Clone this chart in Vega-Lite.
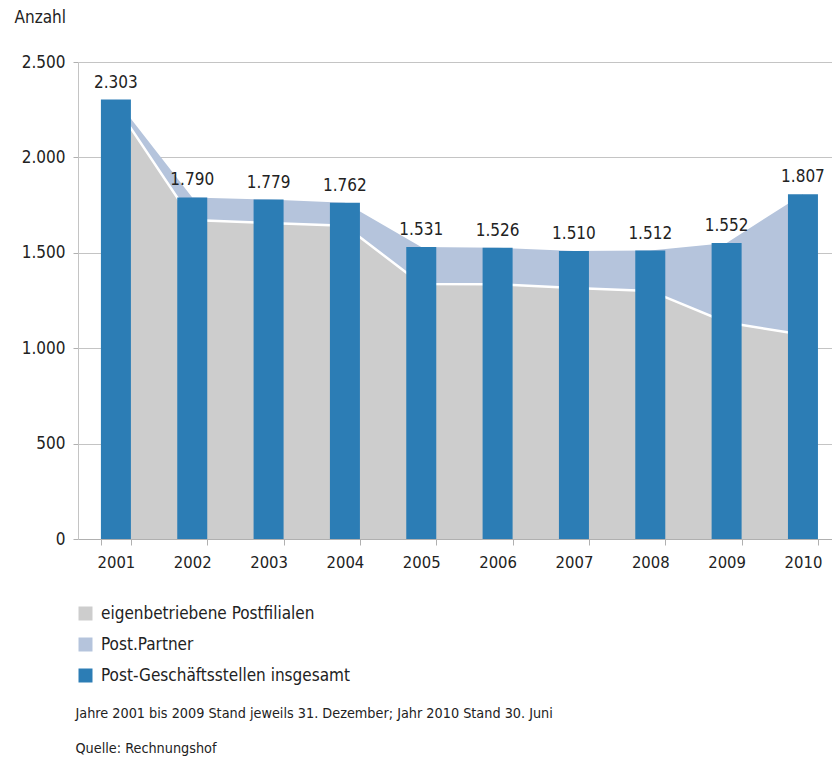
{
  "$schema": "https://vega.github.io/schema/vega-lite/v6.json",
  "width": 754,
  "height": 477,
  "autosize": {"type": "none"},
  "padding": {"left": 78, "top": 62, "right": 0, "bottom": 223},
  "background": "white",
  "config": {
    "locale": {"number": {"decimal": ",", "thousands": ".", "grouping": [3], "currency": ["", " €"]}},
    "font": "DejaVu Sans Condensed",
    "view": {"stroke": null},
    "axis": {"labelColor": "#222222", "titleColor": "#222222", "labelFont": "DejaVu Sans Condensed", "titleFont": "DejaVu Sans Condensed"},
    "legend": {"labelFont": "DejaVu Sans Condensed"}
  },
  "data": {
    "values": [
      {"year": "2001", "total": 2303, "eigen": 2270},
      {"year": "2002", "total": 1790, "eigen": 1672},
      {"year": "2003", "total": 1779, "eigen": 1656},
      {"year": "2004", "total": 1762, "eigen": 1642},
      {"year": "2005", "total": 1531, "eigen": 1336},
      {"year": "2006", "total": 1526, "eigen": 1335},
      {"year": "2007", "total": 1510, "eigen": 1315},
      {"year": "2008", "total": 1512, "eigen": 1300},
      {"year": "2009", "total": 1552, "eigen": 1135},
      {"year": "2010", "total": 1807, "eigen": 1070}
    ]
  },
  "encoding": {
    "x": {
      "field": "year",
      "type": "ordinal",
      "scale": {"paddingInner": 0.607, "paddingOuter": 0.242, "align": 0.62},
      "axis": {
        "title": ["Jahre 2001 bis 2009 Stand jeweils 31. Dezember; Jahr 2010 Stand 30. Juni", "Quelle: Rechnungshof"],
        "titleX": -3,
        "titleY": 178,
        "titleAlign": "left",
        "titleAnchor": "start",
        "titleBaseline": "alphabetic",
        "titleFontSize": 14.3,
        "titleFontWeight": "normal",
        "titleLineHeight": 35,
        "labelAngle": 0,
        "labelFontSize": 16.5,
        "tickBand": "extent",
        "tickSize": 6,
        "labelPadding": 9,
        "domainColor": "#b0b0b0",
        "tickColor": "#b0b0b0",
        "grid": false
      }
    }
  },
  "layer": [
    {
      "mark": {"type": "area"},
      "encoding": {
        "y": {
          "field": "total",
          "type": "quantitative",
          "title": "Anzahl",
          "scale": {"domain": [0, 2500], "nice": false},
          "axis": {
            "values": [0, 500, 1000, 1500, 2000, 2500],
            "format": ",d",
            "titleAngle": 0,
            "titleAlign": "left",
            "titleX": -64,
            "titleY": -45,
            "titleBaseline": "middle",
            "titleFontSize": 17,
            "titleFontWeight": "normal",
            "labelFontSize": 17,
            "labelPadding": 8,
            "tickSize": 5,
            "grid": true,
            "gridColor": "#c4c4c4",
            "domainColor": "#c4c4c4",
            "tickColor": "#b0b0b0"
          }
        },
        "color": {
          "datum": "Post.Partner",
          "type": "nominal",
          "scale": {
            "domain": ["eigenbetriebene Postfilialen", "Post.Partner", "Post-Geschäftsstellen insgesamt"],
            "range": ["#cdcdcd", "#b5c4dc", "#2c7db5"]
          },
          "legend": {
            "orient": "none",
            "legendX": -1,
            "legendY": 543,
            "title": null,
            "direction": "vertical",
            "symbolType": "square",
            "symbolSize": 196,
            "symbolOpacity": 1,
            "symbolStrokeWidth": 0,
            "labelFontSize": 17,
            "labelColor": "#222222",
            "labelOffset": 7,
            "labelLimit": 500,
            "rowPadding": 13,
            "padding": 0
          }
        }
      }
    },
    {
      "mark": {"type": "area"},
      "encoding": {
        "y": {"field": "eigen", "type": "quantitative", "title": "Anzahl"},
        "color": {"datum": "eigenbetriebene Postfilialen", "type": "nominal"}
      }
    },
    {
      "mark": {"type": "line", "color": "white", "strokeWidth": 2.5},
      "encoding": {
        "y": {"field": "eigen", "type": "quantitative", "title": "Anzahl"}
      }
    },
    {
      "mark": {"type": "bar"},
      "encoding": {
        "y": {"field": "total", "type": "quantitative", "title": "Anzahl"},
        "color": {"datum": "Post-Geschäftsstellen insgesamt", "type": "nominal"}
      }
    },
    {
      "mark": {"type": "text", "baseline": "bottom", "dy": -8, "fontSize": 17, "color": "#222222"},
      "encoding": {
        "y": {"field": "total", "type": "quantitative", "title": "Anzahl"},
        "text": {"field": "total", "type": "quantitative", "format": ",d"}
      }
    }
  ]
}
